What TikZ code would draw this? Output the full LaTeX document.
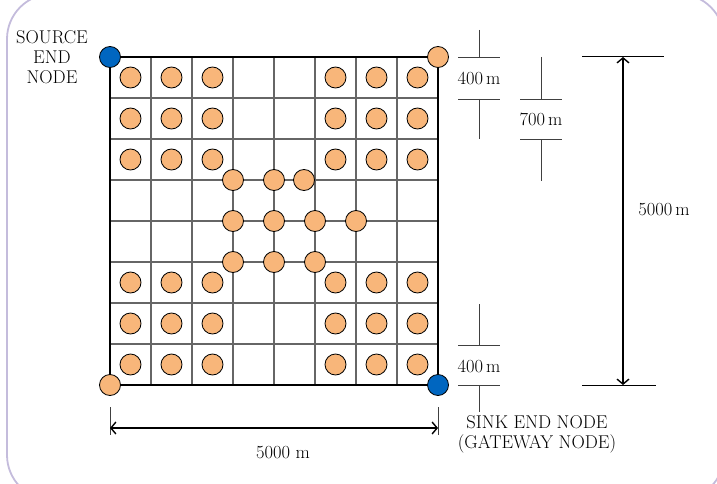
\documentclass[tikz,border=0pt]{standalone}
\usepackage{tikz}
\usetikzlibrary{arrows.meta}
\definecolor{sensorfill}{RGB}{248,182,122}
\definecolor{gatewayblue}{RGB}{0,102,192}
\definecolor{framelilac}{RGB}{196,188,220}

\begin{document}
\begin{tikzpicture}[
    x=1pt, y=-1pt,
    border line/.style={line width=1.8pt},
    grid line/.style={line width=1.2pt, black!60},
    dim line/.style={line width=0.9pt, black!75},
    dim arrow/.style={line width=1.4pt,
        {Straight Barb[length=5pt,width=12pt]}-{Straight Barb[length=5pt,width=12pt]}},
    sensor/.style={circle, draw, line width=0.8pt, fill=sensorfill,
        minimum size=21pt, inner sep=0pt},
    end node/.style={sensor, fill=gatewayblue},
    every node/.style={font=\fontsize{18.5}{20}\selectfont}
    ]
    \useasboundingbox (0,0) rectangle (717,484);
    \clip (0,0) rectangle (717,484);
    % Frame
    \draw[framelilac, line width=1.8pt, rounded corners=45pt]
        (7,-6) rectangle (724,500);
    % Grid
    \foreach \k in {1,...,7} {
        \draw[grid line] (110+41*\k,57) -- (110+41*\k,385);
        \draw[grid line] (110,57+41*\k) -- (438,57+41*\k);
    }
    \draw[border line] (110,57) rectangle (438,385);
    % Sensors in the four corner blocks
    \foreach \c in {0,1,2,5,6,7}
        \foreach \r in {0,1,2,5,6,7}
            \node[sensor] (s\c\r) at (130.5+41*\c,77.5+41*\r) {};
    % Sensors in the middle
    \foreach \x/\y/\n in {233/180/1, 274/180/2, 304/180/3,
        233/221/4, 274/221/5, 315/221/6, 356/221/7,
        233/262/8, 274/262/9, 315/262/10}
        \node[sensor] (m\n) at (\x,\y) {};
    % Corner nodes
    \node[end node] (source) at (110,57) {};
    \node[sensor] (corner ne) at (438,57) {};
    \node[sensor] (corner sw) at (110,385) {};
    \node[end node] (sink) at (438,385) {};
    \node[align=center] (source label) at (52,57) {SOURCE\\END\\NODE};
    \node[align=center] (sink label) at (537,434) {SINK END NODE\\(GATEWAY NODE)};
    % 400 m, top
    \node (dim a) at (479,78) {400\,m};
    \draw[dim line] (458,57) -- (500,57) (458,99) -- (500,99);
    \draw[dim line] (479,30) -- (479,57) (479,99) -- (479,139);
    % 700 m
    \node (dim b) at (541,119) {700\,m};
    \draw[dim line] (520,99) -- (562,99) (520,139) -- (562,139);
    \draw[dim line] (541,57) -- (541,99) (541,139) -- (541,181);
    % 400 m, bottom
    \node (dim c) at (479,366) {400\,m};
    \draw[dim line] (458,345) -- (500,345) (458,385) -- (500,385);
    \draw[dim line] (479,304) -- (479,345) (479,385) -- (479,412);
    % 5000 m, height
    \coordinate (h top) at (623,57);
    \coordinate (h bottom) at (623,385);
    \draw[line width=1pt] (582,57) -- (664,57) (582,385) -- (656,385);
    \draw[dim arrow] (h top) -- (h bottom);
    \node (dim h) at (664,210) {5000\,m};
    % 5000 m, width
    \coordinate (w left) at (110,428);
    \coordinate (w right) at (438,428);
    \draw[dim line] (110,407) -- (110,435) (438,407) -- (438,435);
    \draw[dim arrow] (w left) -- (w right);
    \node (dim w) at (283,453) {5000 m};
\end{tikzpicture}
\end{document}
